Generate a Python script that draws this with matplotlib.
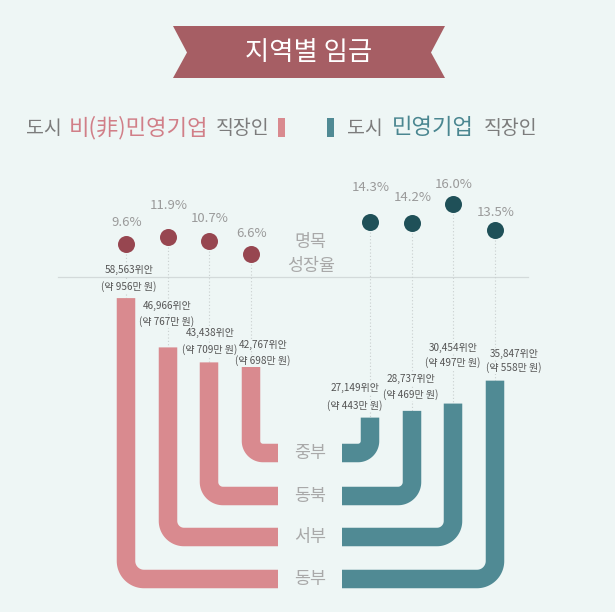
import numpy as np
import matplotlib
matplotlib.use("Agg")
import matplotlib.pyplot as plt
from matplotlib.patches import Polygon, Rectangle

plt.rcParams['font.family'] = ['Noto Sans CJK KR', 'DejaVu Sans']

# ---------------- data (order: 동부, 서부, 동북, 중부) ----------------
regions = ['동부', '서부', '동북', '중부']
nonstate_wage_cny = [58563, 46966, 43438, 42767]
nonstate_wage_krw = [956, 767, 709, 698]
nonstate_growth = [9.6, 11.9, 10.7, 6.6]
private_wage_cny = [35847, 30454, 28737, 27149]
private_wage_krw = [558, 497, 469, 443]
private_growth = [13.5, 16.0, 14.2, 14.3]

title = '지역별 임금'
growth_label = ['명목', '성장율']

# ---------------- style / layout ----------------
BG = '#eef6f5'
PINK = '#d98a8f'
TEAL = '#508a94'
PINK_DOT = '#974650'
TEAL_DOT = '#1f5058'
BANNER = '#a65e64'
GRAY_TXT = '#7c7c7c'
LIGHT_TXT = '#a9a9a9'
VAL_TXT = '#555555'

W, H = 615, 612
row_y = [579, 537, 496, 453]          # horizontal rows per region
pink_x = [126, 168, 209, 251]
teal_x = [495, 453, 412, 370]
pink_end = 278
teal_start = 342
corner_r = [18, 16, 14, 12]
bar_w_px = 18.5

# value scale (pixel space, y grows downward)
def pink_top(v):
    return 547 - 0.00425 * v

def teal_top(v):
    return 533 - 0.00425 * v

def pink_dot_y(g):
    return 275 - 3.2 * g

def teal_dot_y(g):
    return 370.4 - 10.4 * g

pink_pct_dy = [-22, -31, -22, -20]
teal_pct_dy = [-18, -19, -25, -34]
pink_lbl = [(129, 270, 287), (167, 306, 322), (210, 333, 350), (263, 345, 361)]
teal_lbl = [(514, 354, 368), (453, 348, 363), (411, 379, 395), (355, 388, 406)]

fig = plt.figure(figsize=(W / 100, H / 100), dpi=100)
fig.patch.set_facecolor(BG)
ax = fig.add_axes([0, 0, 1, 1])
ax.set_xlim(0, W)
ax.set_ylim(H, 0)
ax.axis('off')
ax.set_facecolor(BG)

lw_pt = bar_w_px * 72 / 100

# ---------------- banner ----------------
ax.add_patch(Polygon([(173, 26), (445, 26), (431, 52.5), (445, 78), (173, 78), (187, 52.5)],
                     closed=True, facecolor=BANNER, edgecolor='none', zorder=2))
ax.text(308.5, 52, title, color='white', fontsize=19, ha='center', va='center', zorder=3)

# ---------------- legend ----------------
ly = 128
ax.text(26, ly, '도시', color=GRAY_TXT, fontsize=14, ha='left', va='center')
ax.text(69, ly, '비(非)민영기업', color='#d17f88', fontsize=16, ha='left', va='center')
ax.text(216, ly, '직장인', color=GRAY_TXT, fontsize=14, ha='left', va='center')
ax.add_patch(Rectangle((278, 118), 7, 19, facecolor=PINK, edgecolor='none'))
ax.add_patch(Rectangle((327, 118), 6.5, 19, facecolor=TEAL, edgecolor='none'))
ax.text(347, ly, '도시', color=GRAY_TXT, fontsize=14, ha='left', va='center')
ax.text(392, ly, '민영기업', color='#4a8690', fontsize=16, ha='left', va='center')
ax.text(484, ly, '직장인', color=GRAY_TXT, fontsize=14, ha='left', va='center')

# ---------------- separator line & growth label ----------------
ax.plot([58, 528], [277, 277], color='#d3dada', lw=0.9, zorder=1)
ax.text(310, 242, growth_label[0], color=LIGHT_TXT, fontsize=12.5, ha='center', va='center')
ax.text(311, 266, growth_label[1], color=LIGHT_TXT, fontsize=12.5, ha='center', va='center')

# ---------------- bars ----------------
def bar_path(xc, top, yrow, r, direction, x_end):
    t = np.linspace(0, np.pi / 2, 30)
    ax_ = xc + direction * (r - r * np.cos(t))
    ay_ = yrow - r + r * np.sin(t)
    xs = np.concatenate([[xc, xc], ax_, [x_end]])
    ys = np.concatenate([[top, yrow - r], ay_, [yrow]])
    return xs, ys

for i in range(4):
    top = pink_top(nonstate_wage_cny[i])
    xs, ys = bar_path(pink_x[i], top, row_y[i], corner_r[i], 1, pink_end)
    ax.plot(xs, ys, color=PINK, lw=lw_pt, solid_capstyle='butt', solid_joinstyle='miter', zorder=3)
    top2 = teal_top(private_wage_cny[i])
    xs, ys = bar_path(teal_x[i], top2, row_y[i], corner_r[i], -1, teal_start)
    ax.plot(xs, ys, color=TEAL, lw=lw_pt, solid_capstyle='butt', solid_joinstyle='miter', zorder=3)

    # dots + dotted guides
    py = pink_dot_y(nonstate_growth[i])
    ty = teal_dot_y(private_growth[i])
    ax.plot([pink_x[i], pink_x[i]], [py, top], ls=(0, (1, 2)), color='#c9cfcf', lw=0.8, zorder=1)
    ax.plot([teal_x[i], teal_x[i]], [ty, top2], ls=(0, (1, 2)), color='#c9cfcf', lw=0.8, zorder=1)
    ax.scatter([pink_x[i]], [py], s=150, color=PINK_DOT, zorder=4, linewidths=0)
    ax.scatter([teal_x[i]], [ty], s=150, color=TEAL_DOT, zorder=4, linewidths=0)
    ax.text(pink_x[i] + 1, py + pink_pct_dy[i], f'{nonstate_growth[i]:.1f}%', color='#9a9a9a',
            fontsize=9.5, ha='center', va='center', zorder=5)
    ax.text(teal_x[i] + 1, ty + teal_pct_dy[i], f'{private_growth[i]:.1f}%', color='#9a9a9a',
            fontsize=9.5, ha='center', va='center', zorder=5)

    # value labels
    bb = dict(facecolor=BG, edgecolor='none', pad=0.5)
    lx, l1, l2 = pink_lbl[i]
    ax.text(lx, l1, f'{nonstate_wage_cny[i]:,}위안', color=VAL_TXT, fontsize=7.2,
            ha='center', va='center', zorder=5, bbox=bb)
    ax.text(lx, l2, f'(약 {nonstate_wage_krw[i]}만 원)', color=VAL_TXT, fontsize=7.2,
            ha='center', va='center', zorder=5, bbox=bb)
    lx, l1, l2 = teal_lbl[i]
    ax.text(lx, l1, f'{private_wage_cny[i]:,}위안', color=VAL_TXT, fontsize=7.2,
            ha='center', va='center', zorder=5, bbox=bb)
    ax.text(lx, l2, f'(약 {private_wage_krw[i]}만 원)', color=VAL_TXT, fontsize=7.2,
            ha='center', va='center', zorder=5, bbox=bb)

    # region labels
    ax.text(310, row_y[i], regions[i], color=LIGHT_TXT, fontsize=12.5, ha='center', va='center')

fig.savefig('out.png', dpi=100, facecolor=BG)
